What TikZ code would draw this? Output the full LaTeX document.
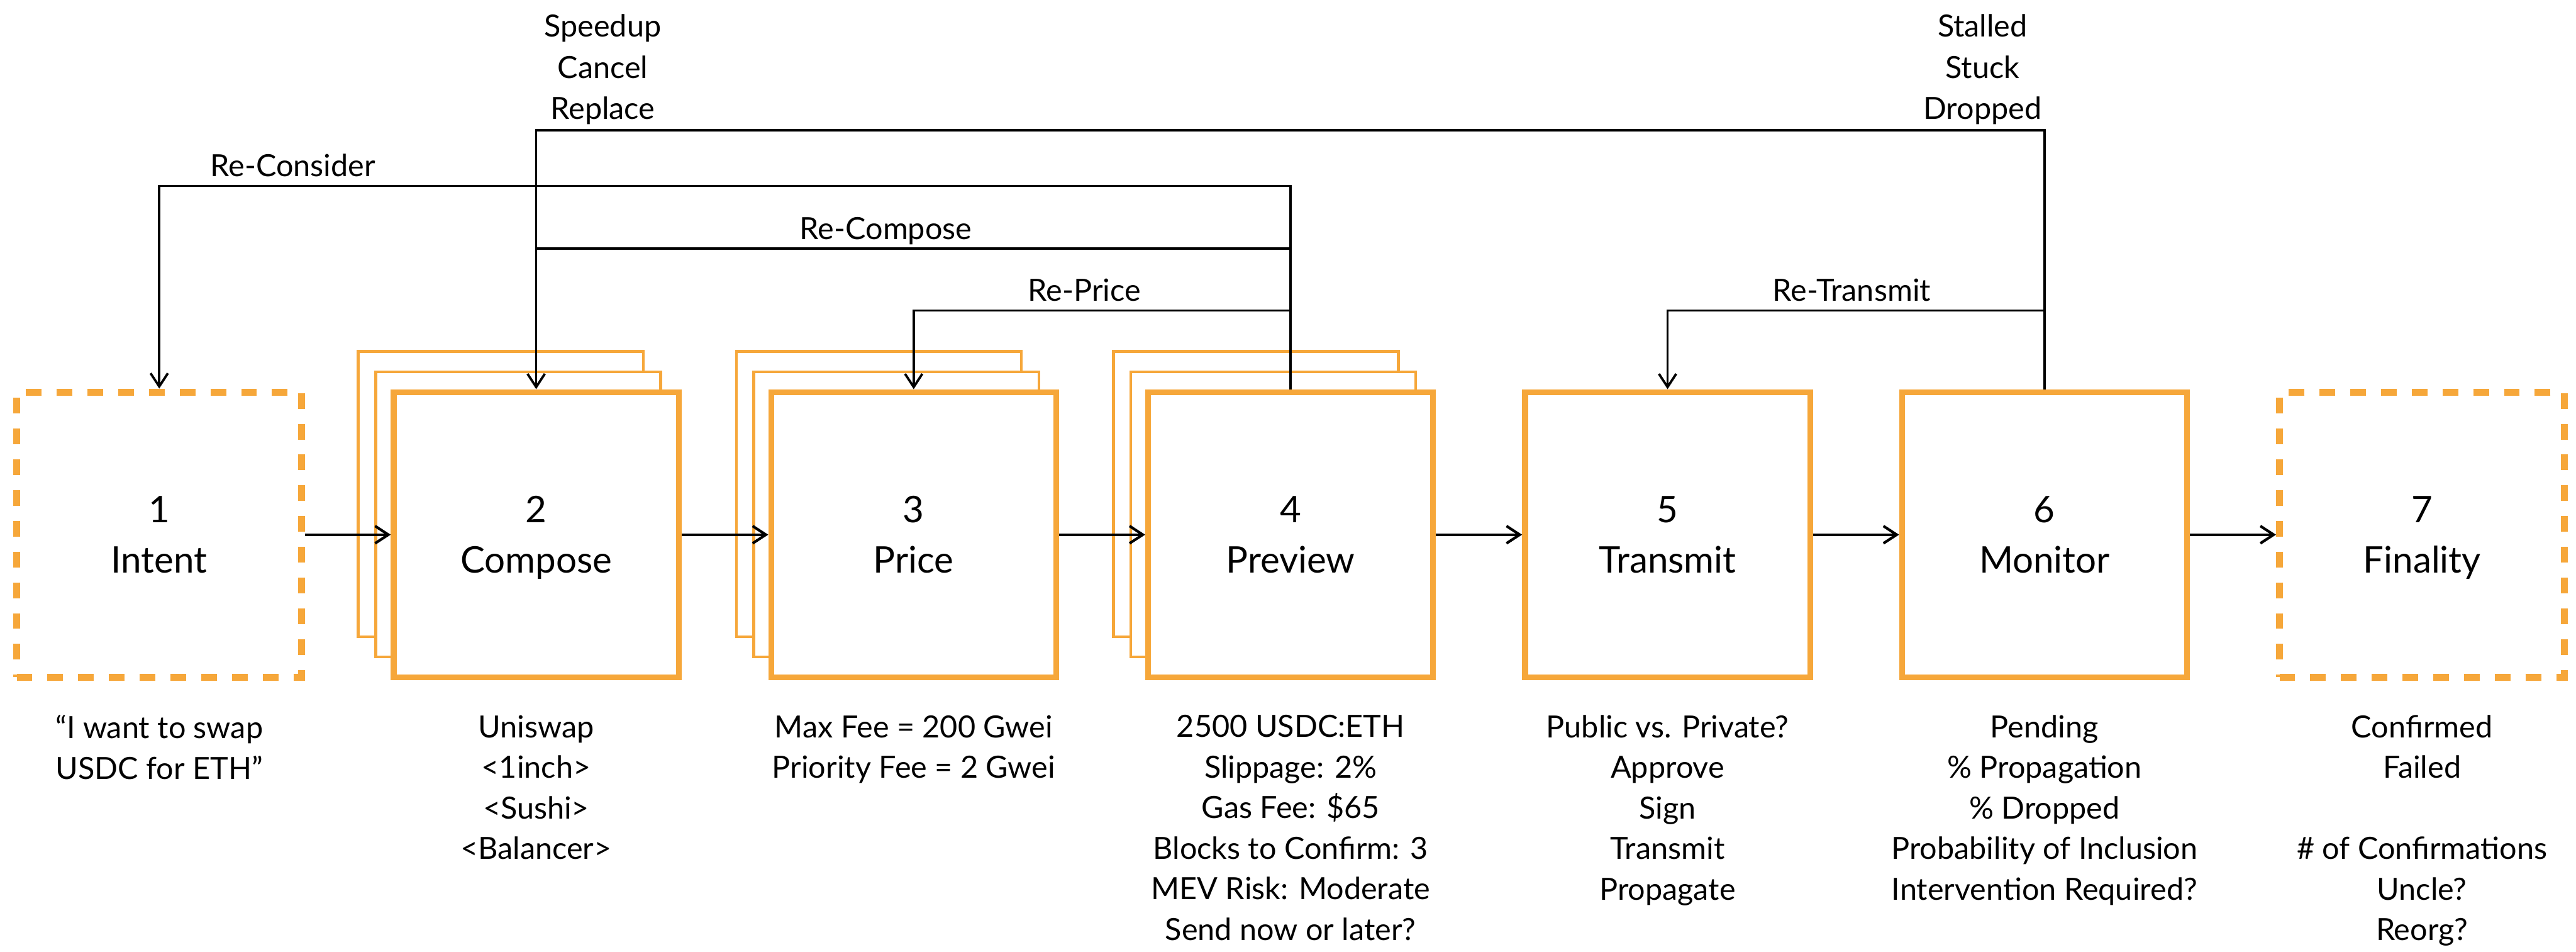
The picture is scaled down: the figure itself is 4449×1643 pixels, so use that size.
\documentclass[tikz,border=0pt]{standalone}
\usepackage{fontspec}
\setmainfont{Lato}
\usetikzlibrary{arrows.meta,calc}
\definecolor{orng}{RGB}{246,167,58}
\begin{document}
\begin{tikzpicture}[x=0.01cm,y=-0.01cm,
  mainbox/.style={draw=orng, line width=2.85pt, fill=white, minimum width=4.92cm, minimum height=4.92cm, inner sep=0pt, align=center, font=\fontsize{18}{24.75}\selectfont, text depth=0pt},
  backbox/.style={draw=orng, line width=1.4pt, fill=white, minimum width=4.92cm, minimum height=4.92cm, inner sep=0pt},
  dbox/.style={mainbox, line width=3.4pt, dash pattern=on 7.7pt off 7.4pt},
  desc/.style={anchor=north, inner sep=0pt, align=center, font=\fontsize{15}{19.9}\selectfont},
  toplbl/.style={anchor=north, inner sep=0pt, align=center, font=\fontsize{15}{20.3}\selectfont},
  lbl/.style={anchor=base, inner sep=0pt, font=\fontsize{15}{18}\selectfont},
  flow/.style={line width=1.3pt, -{Straight Barb[length=6.5pt,width=8.5pt]}},
  fb/.style={line width=1.15pt, -{Straight Barb[length=6.5pt,width=8.5pt]}},
  fbl/.style={line width=1.15pt}
]
\useasboundingbox (0,0) rectangle (4449,1643);

\coordinate (yTop) at (0,225);
\coordinate (yRCons) at (0,321);
\coordinate (yRComp) at (0,429);
\coordinate (yRP) at (0,536);
\coordinate (yTxt) at (0,1234);

% boxes
\node[dbox] (b1) at (275,923) {1\\Intent};

\node[backbox] (b2bb) at (865,853) {};
\node[backbox] (b2b) at (895,888) {};
\node[mainbox] (b2) at (926,923) {2\\Compose};

\node[backbox] (b3bb) at (1518,853) {};
\node[backbox] (b3b) at (1548,888) {};
\node[mainbox] (b3) at (1578,923) {3\\Price};

\node[backbox] (b4bb) at (2169,853) {};
\node[backbox] (b4b) at (2199,888) {};
\node[mainbox] (b4) at (2229,923) {4\\Preview};

\node[mainbox] (b5) at (2880,923) {5\\Transmit};
\node[mainbox] (b6) at (3531,923) {6\\Monitor};
\node[dbox] (b7) at (4183,923) {7\\Finality};

% flow arrows
\draw[flow] (b1) -- (b2);
\draw[flow] (b2) -- (b3);
\draw[flow] (b3) -- (b4);
\draw[flow] (b4) -- (b5);
\draw[flow] (b5) -- (b6);
\draw[flow] (b6) -- (b7);

% feedback loops
\draw[fb] (b4.north) -- (b4.north |- yRCons) -| (b1.north);
\draw[fbl] (b4.north |- yRComp) -- (b2.north |- yRComp);
\draw[fb] (b4.north |- yRP) -| (b3.north);
\draw[fb] (b6.north) -- (b6.north |- yTop) -| (b2.north);
\draw[fb] (b6.north |- yRP) -| (b5.north);

% loop labels
\node[lbl] (lRCons) at (506,305) {Re-Consider};
\node[lbl] (lRComp) at (1530,413) {Re-Compose};
\node[lbl] (lRP) at (1873,520) {Re-Price};
\node[lbl] (lRT) at (3198,520) {Re-Transmit};
\node[toplbl] (lSCR) at (1041,24) {Speedup\\Cancel\\Replace};
\node[toplbl] (lSSD) at (3424,24) {Stalled\\Stuck\\Dropped};

% descriptions
\node[desc] (d1) at (b1.center |- yTxt) {“I want to swap\\USDC for ETH”};
\node[desc] (d2) at (b2.center |- yTxt) {Uniswap\\<1inch>\\<Sushi>\\<Balancer>};
\node[desc] (d3) at (b3.center |- yTxt) {Max Fee = 200 Gwei\\Priority Fee = 2 Gwei};
\node[desc] (d4) at (b4.center |- yTxt) {2500 USDC:ETH\\Slippage: 2\%\\Gas Fee: \$65\\Blocks to Confirm: 3\\MEV Risk: Moderate\\Send now or later?};
\node[desc] (d5) at (b5.center |- yTxt) {Public vs. Private?\\Approve\\Sign\\Transmit\\Propagate};
\node[desc] (d6) at (b6.center |- yTxt) {Pending\\\% Propagation\\\% Dropped\\Probability of Inclusion\\Intervention Required?};
\node[desc] (d7) at (b7.center |- yTxt) {Confirmed\\Failed\\\mbox{}\\\# of Confirmations\\Uncle?\\Reorg?};
\end{tikzpicture}
\end{document}
